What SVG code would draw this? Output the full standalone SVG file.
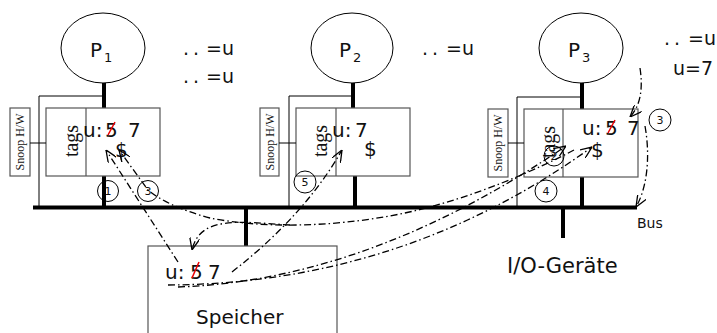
<svg xmlns="http://www.w3.org/2000/svg" width="717" height="333" viewBox="0 0 717 333">
  <style>
    .cpu { fill: #fff; stroke: #000; stroke-width: 1; }
    .box { fill: #fff; stroke: #555; stroke-width: 1.2; }
    .thin { fill: none; stroke: #000; stroke-width: 1; }
    .thick { fill: none; stroke: #000; stroke-width: 4; }
    .sans { font-family: "DejaVu Sans", "Liberation Sans", sans-serif; fill: #111; }
    .serif { font-family: "Liberation Serif", "DejaVu Serif", serif; fill: #111; }
    .big { font-size: 20px; }
    .step { fill: none; stroke: #000; stroke-width: 1; }
    .stepn { font-family: "DejaVu Sans", "Liberation Sans", sans-serif; font-size: 11px; fill: #111; text-anchor: middle; }
    .flow { fill: none; stroke: #000; stroke-width: 1.3; stroke-dasharray: 7 3 1.5 3; }
    .strike { stroke: #e00; stroke-width: 1.5; }
  </style>
  <defs>
    <marker id="arr" viewBox="0 0 12 10" refX="12" refY="5" markerWidth="12" markerHeight="10" markerUnits="userSpaceOnUse" orient="auto">
      <path d="M0,0 L12,5 L0,10" fill="none" stroke="#000" stroke-width="1.3"/>
    </marker>
  </defs>

  <!-- system bus -->
  <g id="bus">
    <line class="thick" x1="33" y1="207.5" x2="637" y2="207.5"/>
    <text class="sans" x="637" y="228" font-size="14">Bus</text>
  </g>

  <!-- processor 1 with cache and snoop logic -->
  <g id="p1">
    <ellipse class="cpu" cx="103" cy="48" rx="42" ry="35"/>
    <text class="sans big" x="90" y="57">P</text>
    <text class="sans" x="104" y="62" font-size="13">1</text>
    <line class="thick" x1="104" y1="83" x2="104" y2="108"/>
    <line class="thick" x1="104" y1="176" x2="104" y2="208"/>
  </g>
  <g id="cache1">
    <rect class="box" x="46" y="108" width="114" height="68"/>
    <line class="box" x1="86" y1="108" x2="86" y2="176"/>
    <text class="serif" font-size="20" text-anchor="middle" transform="translate(78,141) rotate(-90)">tags</text>
    <text class="sans big" x="83" y="137">u:</text>
    <text class="sans big" x="105" y="137">5</text>
    <line class="strike" x1="108" y1="135" x2="115" y2="122"/>
    <text class="sans big" x="128" y="137">7</text>
    <text class="sans big" x="115" y="157">$</text>
  </g>
  <g id="snoop1">
    <rect class="box" x="10" y="108" width="20" height="68"/>
    <text class="serif" font-size="12" text-anchor="middle" transform="translate(24,142) rotate(-90)">Snoop H/W</text>
    <line class="thin" x1="30" y1="143" x2="46" y2="143"/>
    <polyline class="thin" points="104,96 39,96 39,208"/>
  </g>

  <!-- processor 2 with cache and snoop logic -->
  <g id="p2">
    <ellipse class="cpu" cx="352" cy="48" rx="41" ry="35"/>
    <text class="sans big" x="339" y="57">P</text>
    <text class="sans" x="353" y="62" font-size="13">2</text>
    <line class="thick" x1="353" y1="83" x2="353" y2="108"/>
    <line class="thick" x1="355" y1="176" x2="355" y2="208"/>
  </g>
  <g id="cache2">
    <rect class="box" x="296" y="108" width="114" height="68"/>
    <line class="box" x1="336" y1="108" x2="336" y2="176"/>
    <text class="serif" font-size="20" text-anchor="middle" transform="translate(327,141) rotate(-90)">tags</text>
    <text class="sans big" x="332" y="137">u:</text>
    <text class="sans big" x="355" y="137">7</text>
    <text class="sans big" x="364" y="156">$</text>
  </g>
  <g id="snoop2">
    <rect class="box" x="260" y="108" width="19" height="68"/>
    <text class="serif" font-size="12" text-anchor="middle" transform="translate(273.5,142) rotate(-90)">Snoop H/W</text>
    <line class="thin" x1="279" y1="143" x2="296" y2="143"/>
    <polyline class="thin" points="353,96 289,96 289,208"/>
  </g>

  <!-- processor 3 with cache and snoop logic -->
  <g id="p3">
    <ellipse class="cpu" cx="581" cy="48" rx="42" ry="35"/>
    <text class="sans big" x="568" y="57">P</text>
    <text class="sans" x="582" y="62" font-size="13">3</text>
    <line class="thick" x1="582" y1="83" x2="582" y2="109"/>
    <line class="thick" x1="582" y1="177" x2="582" y2="208"/>
  </g>
  <g id="cache3">
    <rect class="box" x="524" y="109" width="114" height="68"/>
    <line class="box" x1="563" y1="109" x2="563" y2="177"/>
    <text class="serif" font-size="20" text-anchor="middle" transform="translate(555,142) rotate(-90)">tags</text>
    <text class="sans big" x="582" y="135">u:</text>
    <text class="sans big" x="605" y="135">5</text>
    <line class="strike" x1="608" y1="133" x2="615" y2="120"/>
    <text class="sans big" x="627" y="135">7</text>
    <text class="sans big" x="591" y="157">$</text>
  </g>
  <g id="snoop3">
    <rect class="box" x="488" y="109" width="20" height="68"/>
    <text class="serif" font-size="12" text-anchor="middle" transform="translate(502,143) rotate(-90)">Snoop H/W</text>
    <line class="thin" x1="508" y1="143" x2="524" y2="143"/>
    <polyline class="thin" points="582,97 517,97 517,208"/>
  </g>

  <!-- main memory -->
  <g id="memory">
    <line class="thick" x1="246" y1="208" x2="246" y2="246"/>
    <rect class="box" x="148" y="246" width="189" height="95"/>
    <text class="sans big" x="165" y="279">u:</text>
    <text class="sans big" x="190" y="279">5</text>
    <line class="strike" x1="192" y1="278" x2="199" y2="262"/>
    <text class="sans big" x="208" y="279">7</text>
    <text class="sans big" x="196" y="324">Speicher</text>
  </g>

  <!-- I/O devices -->
  <g id="io">
    <line class="thick" x1="563" y1="208" x2="563" y2="238"/>
    <text class="sans" x="507" y="273" font-size="21">I/O-Geräte</text>
  </g>

  <!-- what each processor reads / writes -->
  <g id="ops">
    <text class="sans" x="183" y="55" font-size="19" letter-spacing="4">..</text>
    <text class="sans" x="206" y="55" font-size="19">=u</text>
    <text class="sans" x="183" y="83" font-size="19" letter-spacing="4">..</text>
    <text class="sans" x="206" y="83" font-size="19">=u</text>
    <text class="sans" x="422" y="55" font-size="19" letter-spacing="4">..</text>
    <text class="sans" x="446" y="55" font-size="19">=u</text>
    <text class="sans" x="664" y="45" font-size="19" letter-spacing="4">..</text>
    <text class="sans" x="688" y="45" font-size="19">=u</text>
    <text class="sans" x="673" y="75" font-size="19">u=7</text>
  </g>

  <!-- step numbers -->
  <g id="steps">
    <circle class="step" cx="108" cy="191" r="10.5"/>
    <text class="stepn" x="108" y="195">1</text>
    <circle class="step" cx="148" cy="191" r="10.5"/>
    <text class="stepn" x="148" y="195">3</text>
    <circle class="step" cx="305" cy="182" r="11"/>
    <text class="stepn" x="305" y="186">5</text>
    <circle class="step" cx="554" cy="156" r="10"/>
    <text class="stepn" x="554" y="160">2</text>
    <circle class="step" cx="546" cy="191" r="11"/>
    <text class="stepn" x="546" y="195">4</text>
    <circle class="step" cx="660" cy="120" r="11"/>
    <text class="stepn" x="660" y="124">3</text>
  </g>

  <!-- data transfers -->
  <g id="connectors">
    <path class="flow" d="M178,262 L106,150" marker-end="url(#arr)"/>
    <path class="flow" d="M574,150 C540,168 470,200 400,214 C330,228 260,228 210,218 C180,210 160,200 148,190 L119,150" marker-end="url(#arr)"/>
    <path class="flow" d="M290,225 C240,222 200,215 192,250" marker-end="url(#arr)"/>
    <path class="flow" d="M178,287 C320,282 450,225 566,146" marker-end="url(#arr)"/>
    <path class="flow" d="M168,285 C330,284 470,235 592,147" marker-end="url(#arr)"/>
    <path class="flow" d="M232,272 Q305,215 342,150" marker-end="url(#arr)"/>
    <path class="flow" d="M640,68 C643,88 641,105 630,117" marker-end="url(#arr)"/>
    <path class="flow" d="M645,126 C651,160 646,190 636,207" marker-end="url(#arr)"/>
  </g>
</svg>
